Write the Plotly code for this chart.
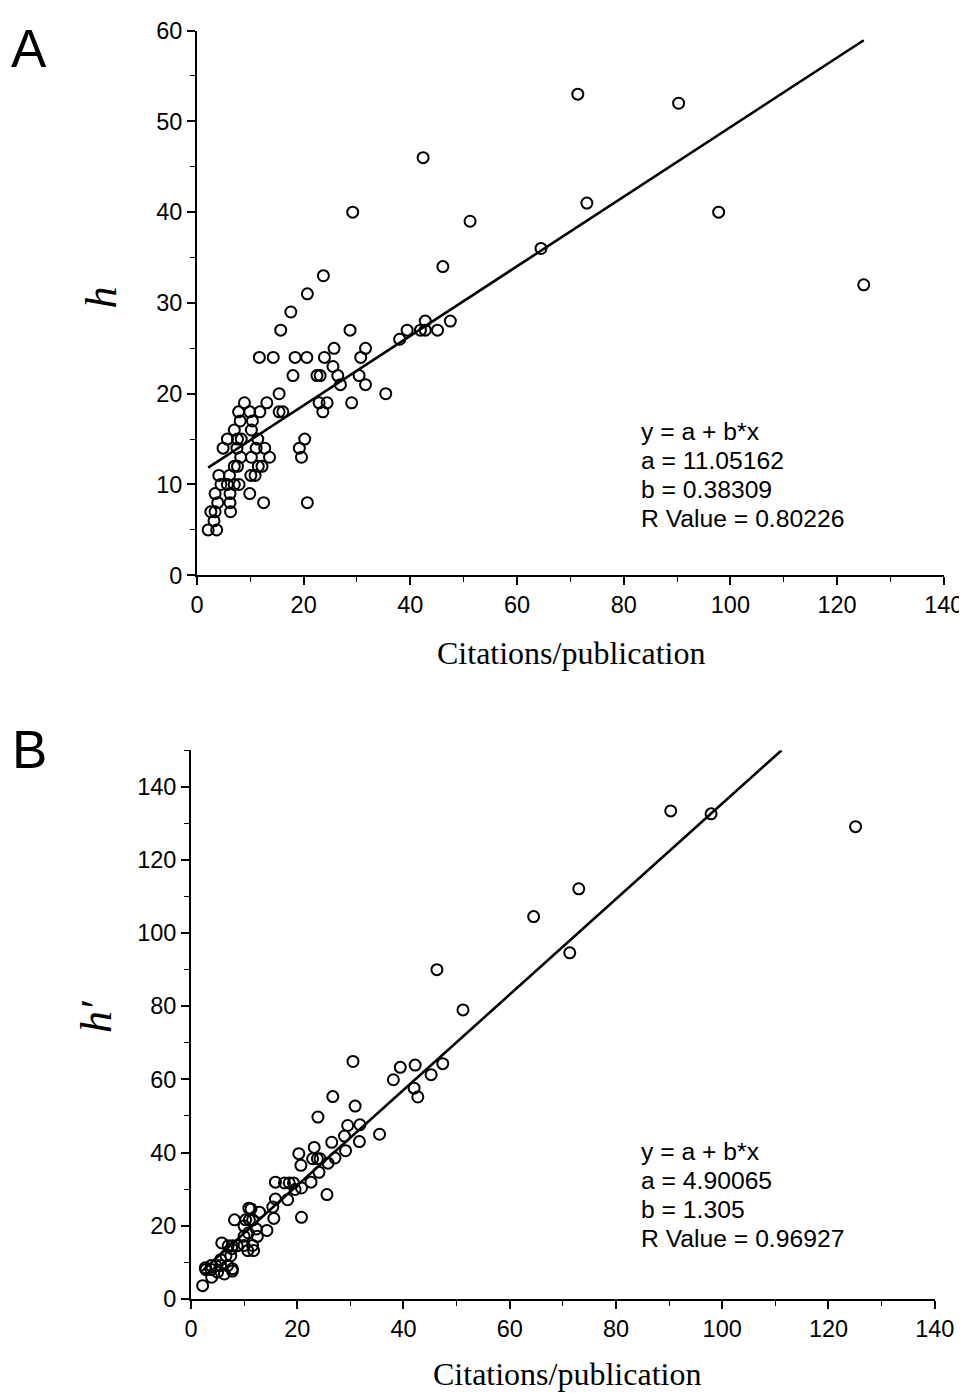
import plotly.graph_objects as go

# ---------------- Panel A data: citations/publication vs h ----------------
cpp_a = [71.4, 90.3, 42.4, 29.2, 97.8, 73.1, 51.2, 64.5, 46.1, 125.0, 47.5, 42.8, 45.1, 41.9, 42.8, 39.4, 38.0,
         23.7, 20.7, 17.6, 15.7, 28.7, 11.7, 14.3, 18.4, 20.6, 23.9, 25.7, 30.7, 31.6, 18.0, 22.5, 23.1, 25.5,
         26.4, 26.9, 30.4, 31.6, 35.4, 15.4, 15.4, 16.1, 22.9, 24.4, 23.6, 29.0, 13.1, 8.9, 7.8, 9.9, 11.8,
         8.1, 10.4, 7.0, 10.2, 5.7, 7.6, 8.3, 11.4, 4.9, 7.5, 11.1, 12.7, 8.2, 10.2, 13.6, 7.0, 7.6, 11.5, 12.2,
         10.1, 10.9, 4.1, 6.1, 4.5, 5.7, 7.0, 7.9, 9.9, 3.4, 6.2, 12.5, 20.7, 3.9, 6.2, 2.6, 3.4, 6.3, 3.2,
         2.1, 3.7, 19.2, 20.2, 19.6]
h_a = [53, 52, 46, 40, 40, 41, 39, 36, 34, 32, 28, 28, 27, 27, 27, 27, 26,
       33, 31, 29, 27, 27, 24, 24, 24, 24, 24, 25, 24, 25, 22, 22, 22, 23,
       22, 21, 22, 21, 20, 20, 18, 18, 19, 19, 18, 19, 19, 19, 18, 18, 18,
       17, 17, 16, 16, 15, 15, 15, 15, 14, 14, 14, 14, 13, 13, 13, 12, 12, 12, 12,
       11, 11, 11, 11, 10, 10, 10, 10, 9, 9, 9, 8, 8, 8, 8, 7, 7, 7, 6,
       5, 5, 14, 15, 13]
fit_a = {"a": 11.05162, "b": 0.38309, "r": 0.80226, "x0": 2.1, "x1": 125.0}

# ---------------- Panel B data: citations/publication vs h' ----------------
cpp_b = [90.3, 97.9, 125.1, 73.0, 64.5, 71.3, 46.3, 51.2, 47.4, 45.2, 30.5, 39.4, 42.2, 38.1, 42.0, 42.7,
         26.7, 30.9, 23.9, 29.5, 31.8, 35.5, 28.9, 26.5, 31.7, 23.2, 29.1, 20.3, 22.9, 23.8, 24.3, 27.1,
         25.8, 20.7, 24.1, 15.9, 17.6, 18.5, 19.3, 22.6, 20.8, 19.6, 25.6, 15.9, 18.2, 15.4, 12.9, 20.8,
         11.3, 10.9, 8.2, 10.3, 11.0, 11.6, 15.6, 14.3, 12.3, 10.0, 10.8, 12.5, 10.0, 5.8, 7.0, 7.8, 8.7,
         10.0, 11.6, 10.7, 11.8, 7.5, 6.6, 7.7, 5.6, 3.8, 4.7, 5.6, 2.8, 3.8, 6.9, 7.8, 6.3, 3.9, 5.0,
         7.8, 2.2, 2.7]
hp_b = [133.4, 132.6, 129.1, 112.1, 104.5, 94.6, 90.0, 79.0, 64.3, 61.3, 64.9, 63.3, 63.9, 59.9, 57.6, 55.2,
        55.3, 52.7, 49.7, 47.4, 47.6, 45.0, 44.5, 42.8, 43.0, 41.4, 40.5, 39.7, 38.3, 38.3, 38.3, 38.5,
        37.1, 36.5, 34.6, 31.9, 31.7, 31.7, 31.7, 31.9, 30.3, 29.9, 28.5, 27.3, 27.1, 25.1, 23.7, 22.3,
        24.6, 24.8, 21.6, 21.6, 21.6, 21.6, 22.0, 18.7, 19.1, 19.9, 18.0, 17.1, 17.1, 15.3, 14.5, 14.5, 14.5,
        14.6, 14.6, 13.2, 13.2, 11.8, 11.8, 13.7, 10.7, 9.1, 9.1, 9.1, 8.0, 8.0, 9.1, 8.2, 6.8, 5.9, 7.3,
        7.6, 3.6, 8.5]
fit_b = {"a": 4.90065, "b": 1.305, "r": 0.96927, "x0": 2.1, "ymax": 150.0}

# figure size and calibration from target-picture pixels to figure pixels
W, H = 990, 1400
PX0, SX, PY0, SY = 14.0, 0.973, 21.4, 0.982


def px(r):
    return ((r - PX0) / SX) / W


def py(r):
    return 1 - ((r - PY0) / SY) / H


marker = dict(symbol="circle-open", size=11, color="black", line=dict(width=2, color="black"))
fitline = dict(color="black", width=2.6)

fig = go.Figure()
fig.add_trace(go.Scatter(x=cpp_a, y=h_a, mode="markers", marker=marker, xaxis="x", yaxis="y",
                         showlegend=False, cliponaxis=False))
xa = [fit_a["x0"], fit_a["x1"]]
fig.add_trace(go.Scatter(x=xa, y=[fit_a["a"] + fit_a["b"] * v for v in xa], mode="lines",
                         line=fitline, xaxis="x", yaxis="y", showlegend=False))

fig.add_trace(go.Scatter(x=cpp_b, y=hp_b, mode="markers", marker=marker, xaxis="x2", yaxis="y2",
                         showlegend=False, cliponaxis=False))
xb = [fit_b["x0"], (fit_b["ymax"] - fit_b["a"]) / fit_b["b"]]
fig.add_trace(go.Scatter(x=xb, y=[fit_b["a"] + fit_b["b"] * v for v in xb], mode="lines",
                         line=fitline, xaxis="x2", yaxis="y2", showlegend=False))

tickfont = dict(family="Liberation Sans, Arial", size=23.5, color="black")
common = dict(showline=True, linecolor="black", linewidth=1.8, ticks="outside", ticklen=8,
              tickwidth=1.6, tickcolor="black", showgrid=False, zeroline=False, tickfont=tickfont,
              mirror=False, ticklabeloverflow="allow")
minor = dict(ticklen=5, tickwidth=1.3, tickcolor="black", ticks="outside")

fig.update_layout(
    width=W, height=H, margin=dict(l=0, r=0, t=0, b=0),
    plot_bgcolor="white", paper_bgcolor="white",
    xaxis=dict(domain=[px(196), px(943)], range=[0, 140], dtick=20, anchor="y",
               minor=dict(dtick=10, **minor), **common),
    yaxis=dict(domain=[py(576), py(31)], range=[0, 60], dtick=10, anchor="x",
               minor=dict(dtick=5, **minor), **common),
    xaxis2=dict(domain=[px(190), px(934)], range=[0, 140], dtick=20, anchor="y2",
                minor=dict(dtick=10, **minor), **common),
    yaxis2=dict(domain=[py(1300), py(751)], range=[0, 150], dtick=20, anchor="x2",
                minor=dict(dtick=10, **minor), **common),
)

serif = "Liberation Serif, Times New Roman"
sans = "Liberation Sans, Arial"
ann = []
# panel labels
ann.append(dict(text="A", x=px(28), y=py(49), xanchor="center", yanchor="middle", font=dict(family=sans, size=53)))
ann.append(dict(text="B", x=px(29), y=py(750), xanchor="center", yanchor="middle", font=dict(family=sans, size=53)))
# axis titles
ann.append(dict(text="Citations/publication", x=px(570), y=py(654), xanchor="center", yanchor="middle",
                font=dict(family=serif, size=32)))
ann.append(dict(text="Citations/publication", x=px(566), y=py(1375), xanchor="center", yanchor="middle",
                font=dict(family=serif, size=32)))
ann.append(dict(text="<i>h</i>", x=px(100), y=py(298), xanchor="center", yanchor="middle", textangle=-90,
                font=dict(family=serif, size=44)))
ann.append(dict(text="<i>h′</i>", x=px(95), y=py(1017), xanchor="center", yanchor="middle", textangle=-90,
                font=dict(family=serif, size=44)))
# fit statistics
stats_a = ["y = a + b*x", f"a = {fit_a['a']}", f"b = {fit_a['b']}", f"R Value = {fit_a['r']}"]
stats_b = ["y = a + b*x", f"a = {fit_b['a']}", f"b = {fit_b['b']}", f"R Value = {fit_b['r']}"]
for i, t in enumerate(stats_a):
    ann.append(dict(text=t, x=px(638), y=py(432 + 29 * i), xanchor="left", yanchor="middle",
                    font=dict(family=sans, size=24.7)))
for i, t in enumerate(stats_b):
    ann.append(dict(text=t, x=px(638), y=py(1153 + 29 * i), xanchor="left", yanchor="middle",
                    font=dict(family=sans, size=24.7)))
for a in ann:
    a.update(xref="paper", yref="paper", showarrow=False)
    a["font"]["color"] = "black"
fig.update_layout(annotations=ann)

fig.write_html("out.html")
